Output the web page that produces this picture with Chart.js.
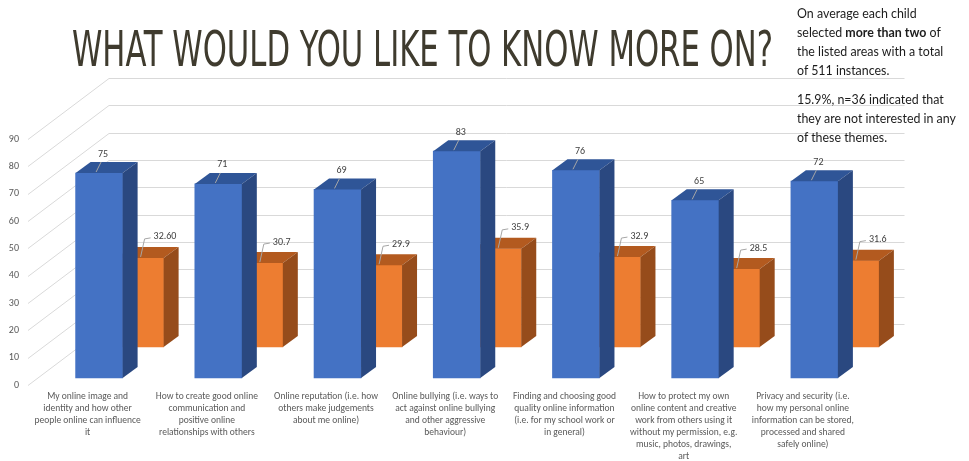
<!DOCTYPE html>
<html>
<head>
<meta charset="utf-8">
<title>What would you like to know more on?</title>
<script src="https://cdn.jsdelivr.net/npm/chart.js@4/dist/chart.umd.min.js"></script>
<style>
  body { margin: 0; background: #fff; }
  #slide { position: relative; width: 969px; height: 461px; overflow: hidden; }
  #topicsChart { position: absolute; left: 0; top: 0; }
  #title {
    position: absolute; left: 72px; top: 25px; margin: 0; display: inline-block;
    font: 400 49px/49px 'DejaVu Sans Condensed', 'Liberation Sans Narrow', sans-serif;
    font-stretch: condensed;
    color: #3f3b2e; white-space: nowrap; transform-origin: 0 0;
  }
  #note {
    position: absolute; left: 797px; top: 4px;
    font: 12.4px/19px Lato, sans-serif; color: #1c1c1c; white-space: nowrap;
  }
  #note p { margin: 0 0 10px; }
</style>
</head>
<body>
<div id="slide">
  <canvas id="topicsChart" width="969" height="461"></canvas>
  <h1 id="title">WHAT WOULD YOU LIKE TO KNOW MORE ON?</h1>
  <div id="note">
    <p>On average each child<br>selected <b>more than two</b> of<br>the listed areas with a total<br>of 511 instances.</p>
    <p>15.9%, n=36 indicated that<br>they are not interested in any<br>of these themes.</p>
  </div>
</div>
<script>
const topics = [
  ['My online image and', 'identity and how other', 'people online can influence', 'it'],
  ['How to create good online', 'communication and', 'positive online', 'relationships with others'],
  ['Online reputation (i.e. how', 'others make judgements', 'about me online)'],
  ['Online bullying (i.e. ways to', 'act against online bullying', 'and other aggressive', 'behaviour)'],
  ['Finding and choosing good', 'quality online information', '(i.e. for my school work or', 'in general)'],
  ['How to protect my own', 'online content and creative', 'work from others using it', 'without my permission, e.g.', 'music, photos, drawings,', 'art'],
  ['Privacy and security (i.e.', 'how my personal online', 'information can be stored,', 'processed and shared', 'safely online)']
];
const counts = [75, 71, 69, 83, 76, 65, 72];
const shareLabels = ['32.60', '30.7', '29.9', '35.9', '32.9', '28.5', '31.6'];
const shares = shareLabels.map(Number);
const Y_MIN = 0;
const Y_MAX = 90;
const Y_STEP = 10;

// fake 3D: walls, row offsets into the floor, bar depth
const WALL = { dx: 81, dy: -61, extra: 42 };
const BAR_DEPTH = { dx: 15, dy: -11 };
const ROW_SHIFT = [{ x: 11.5, y: -7 }, { x: 52.5, y: -38 }];
const FACES = [
  { top: '#2f5597', side: '#2a4880' },
  { top: '#b35a1f', side: '#964c1b' }
];
const AXIS_FONT = 'Carlito, Lato, sans-serif';
const LABEL_FONT = '10px Carlito, Lato, sans-serif';

function drawLabels(chart) {
  const ctx = chart.ctx;
  const front = chart.getDatasetMeta(0).data;
  const back = chart.getDatasetMeta(1).data;
  ctx.save();
  ctx.font = LABEL_FONT;
  ctx.fillStyle = '#404040';
  ctx.strokeStyle = '#a6a6a6';
  ctx.lineWidth = 1;
  ctx.textBaseline = 'middle';

  front.forEach((bar, i) => {
    const cx = bar.x + ROW_SHIFT[0].x;
    const top = bar.y + ROW_SHIFT[0].y;
    ctx.beginPath();
    ctx.moveTo(cx - 3, top - 1);
    ctx.lineTo(cx + 2, top - 11);
    ctx.stroke();
    ctx.textAlign = 'center';
    ctx.fillText(String(counts[i]), cx + 4, top - 19);
  });

  back.forEach((bar, i) => {
    // part of the back bar hides behind the front bar's side face
    const fb = front[i];
    const left = fb.x + fb.width / 2 + ROW_SHIFT[0].x + BAR_DEPTH.dx;
    const top = bar.y + ROW_SHIFT[1].y;
    ctx.beginPath();
    ctx.moveTo(left + 3, top - 1);
    ctx.lineTo(left + 7, top - 19);
    ctx.lineTo(left + 13, top - 20);
    ctx.stroke();
    ctx.textAlign = 'left';
    ctx.fillText(shareLabels[i], left + 16, top - 21);
  });
  ctx.restore();
}

const depthPlugin = {
  id: 'depth',
  beforeDatasetsDraw(chart) {
    const { ctx, chartArea, scales: { y } } = chart;
    ctx.save();
    ctx.strokeStyle = '#d9d9d9';
    ctx.lineWidth = 1;
    y.ticks.forEach(t => {
      const py = Math.round(y.getPixelForValue(t.value)) + 0.5;
      ctx.beginPath();
      ctx.moveTo(chartArea.left, py);
      ctx.lineTo(chartArea.left + WALL.dx, py + WALL.dy);
      ctx.lineTo(chartArea.right + WALL.extra, py + WALL.dy);
      ctx.stroke();
    });
    ctx.restore();
  },
  beforeDatasetDraw(chart, args) {
    const shift = ROW_SHIFT[args.index];
    chart.ctx.save();
    chart.ctx.translate(shift.x, shift.y);
  },
  afterDatasetDraw(chart, args) {
    const ctx = chart.ctx;
    const face = FACES[args.index];
    args.meta.data.forEach(bar => {
      const l = bar.x - bar.width / 2;
      const r = bar.x + bar.width / 2;
      const t = bar.y;
      const b = bar.base;
      const dx = BAR_DEPTH.dx, dy = BAR_DEPTH.dy;

      ctx.fillStyle = face.top;
      ctx.beginPath();
      ctx.moveTo(l, t);
      ctx.lineTo(l + dx, t + dy);
      ctx.lineTo(r + dx, t + dy);
      ctx.lineTo(r, t);
      ctx.closePath();
      ctx.fill();

      ctx.fillStyle = face.side;
      ctx.beginPath();
      ctx.moveTo(r, t);
      ctx.lineTo(r + dx, t + dy);
      ctx.lineTo(r + dx, b + dy);
      ctx.lineTo(r, b);
      ctx.closePath();
      ctx.fill();
    });
    ctx.restore();
  },
  afterDatasetsDraw(chart) {
    drawLabels(chart);
  }
};

function initChart() {
  const ctx = document.getElementById('topicsChart').getContext('2d');
  new Chart(ctx, {
    type: 'bar',
    data: {
      labels: topics,
      datasets: [
        { label: 'Selections', data: counts, backgroundColor: '#4472c4' },
        { label: 'Share', data: shares, backgroundColor: '#ed7d31' }
      ]
    },
    options: {
      responsive: false,
      animation: false,
      events: [],
      layout: { padding: { top: 139, right: 106.5, left: 0, bottom: 0 } },
      datasets: { bar: { barThickness: 47, grouped: false, clip: false, borderWidth: 0 } },
      plugins: { legend: { display: false }, tooltip: { enabled: false } },
      scales: {
        x: {
          grid: { display: false, drawTicks: false },
          border: { display: false },
          ticks: {
            autoSkip: false, maxRotation: 0, minRotation: 0, padding: 6,
            color: '#595959', font: { family: AXIS_FONT, size: 9.5, lineHeight: 1.25 }
          },
          afterFit: scale => { scale.height = 76; }
        },
        y: {
          min: Y_MIN, max: Y_MAX,
          grid: { display: false, drawTicks: false },
          border: { display: false },
          ticks: {
            stepSize: Y_STEP, padding: 9,
            color: '#595959', font: { family: AXIS_FONT, size: 10 }
          },
          afterFit: scale => { scale.width = 28; }
        }
      }
    },
    plugins: [depthPlugin]
  });
}

function fitTitle() {
  const title = document.getElementById('title');
  title.style.transform = 'none';
  const w = title.getBoundingClientRect().width;
  title.style.transform = 'scaleX(' + (701 / w) + ')';
}

document.addEventListener('DOMContentLoaded', () => {
  initChart();
  fitTitle();
  document.fonts.ready.then(fitTitle);
});
</script>
</body>
</html>
